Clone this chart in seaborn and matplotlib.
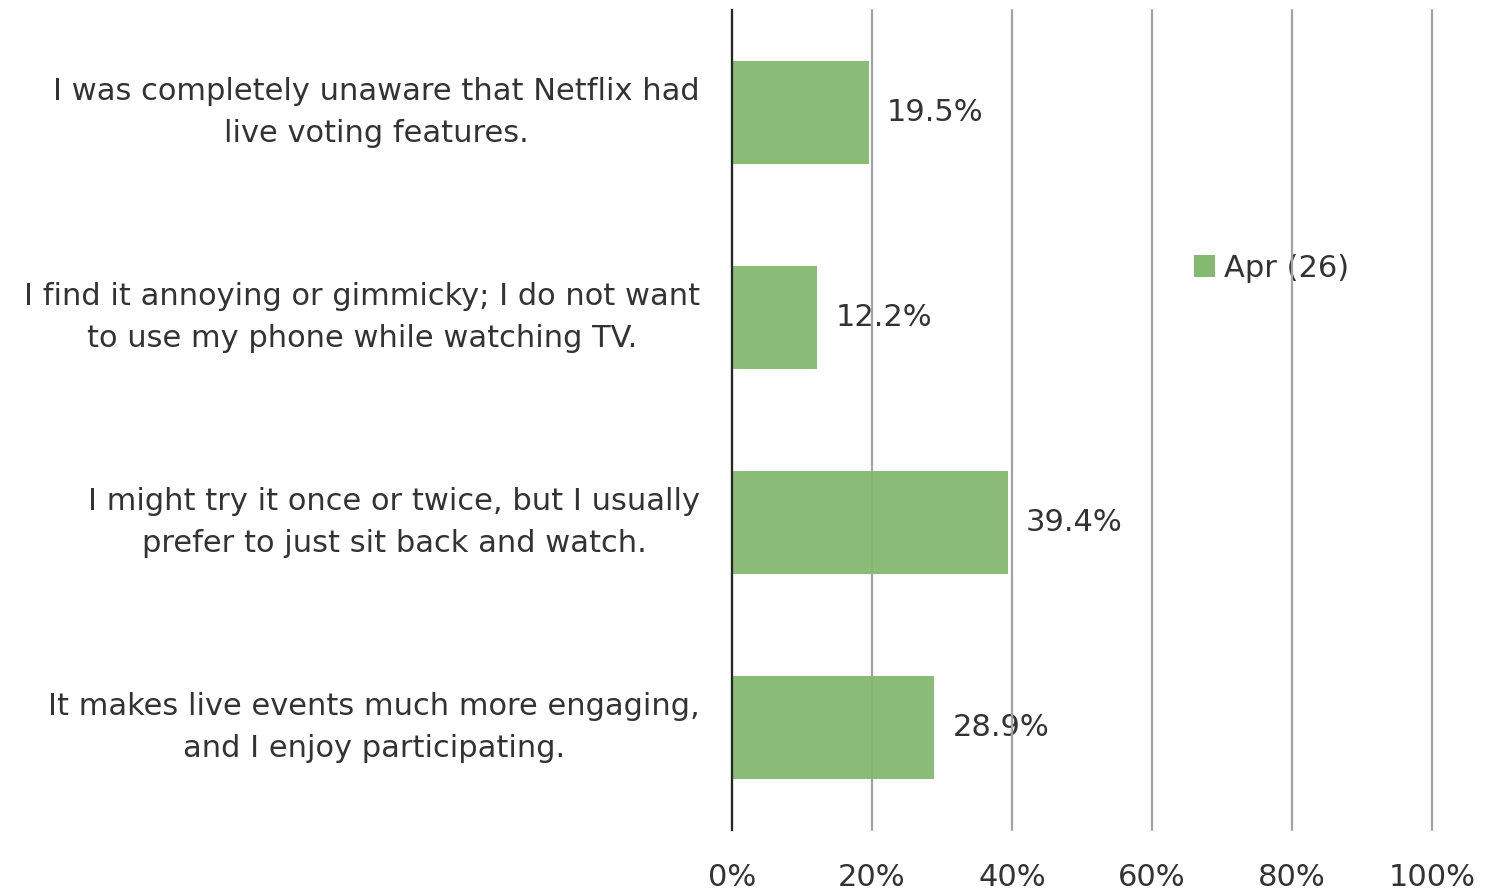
import matplotlib
matplotlib.use("Agg")
import matplotlib.pyplot as plt
import seaborn as sns
import pandas as pd
from matplotlib.patches import Patch

categories = [
    "I was completely unaware that Netflix had\nlive voting features.",
    "I find it annoying or gimmicky; I do not want\nto use my phone while watching TV.",
    "I might try it once or twice, but I usually\nprefer to just sit back and watch.",
    "It makes live events much more engaging,\nand I enjoy participating.",
]
values = [0.195, 0.122, 0.394, 0.289]
series_name = "Apr (26)"
xticks = [0, 0.2, 0.4, 0.6, 0.8, 1.0]
xtick_labels = ["0%", "20%", "40%", "60%", "80%", "100%"]

sns.set_theme(style="white")
plt.rcParams['font.family'] = ['DejaVu Sans']
TXT = '#333333'
FS = 22
BAR = '#84b970'
GRID = '#a3a3a3'

df = pd.DataFrame({"cat": categories, "val": values})

fig = plt.figure(figsize=(14.96, 8.94), dpi=100)
ax = fig.add_axes([732/1496, 1-830/894, 700/1496, 820/894])

sns.barplot(data=df, y="cat", x="val", orient="h", color=BAR, width=0.5,
            saturation=1, ax=ax, zorder=5)
for p in ax.patches:
    p.set_alpha(0.95)
    p.set_edgecolor('none')

ax.set_xlim(0, 1.0)
ax.set_ylim(3.5, -0.5)
ax.set_xticks(xticks)
ax.set_xticklabels(xtick_labels)
ax.set_xlabel("")
ax.set_ylabel("")
ax.xaxis.grid(True, color=GRID, linewidth=1.6)
for gl in ax.xaxis.get_gridlines():
    gl.set_clip_on(False)
ax.yaxis.grid(False)
ax.xaxis.set_zorder(4)
for s in ['top', 'right', 'bottom']:
    ax.spines[s].set_visible(False)
ax.spines['left'].set_color('#262626')
ax.spines['left'].set_linewidth(1.6)
ax.spines['left'].set_zorder(6)
ax.tick_params(axis='x', length=0, pad=24, labelsize=FS, labelcolor=TXT, colors=TXT)
ax.tick_params(axis='y', length=0, pad=23, labelsize=FS, labelcolor=TXT)
for t in ax.get_yticklabels():
    t.set_multialignment('center')
    t.set_verticalalignment('center')
    t.set_linespacing(1.55)

for i, v in enumerate(values):
    ax.text(v + 0.026, i, f"{v*100:.1f}%", va='center', ha='left',
            fontsize=FS, color=TXT, zorder=3)

leg = ax.legend(handles=[Patch(facecolor=BAR, edgecolor='none', label=series_name)],
                loc='center left', bbox_to_anchor=(0.62, 0.685), frameon=False,
                fontsize=FS, handlelength=0.7, handleheight=0.7, handletextpad=0.3,
                labelcolor=TXT)
leg.set_zorder(3)

fig.savefig("out.png", dpi=100, facecolor='white')
